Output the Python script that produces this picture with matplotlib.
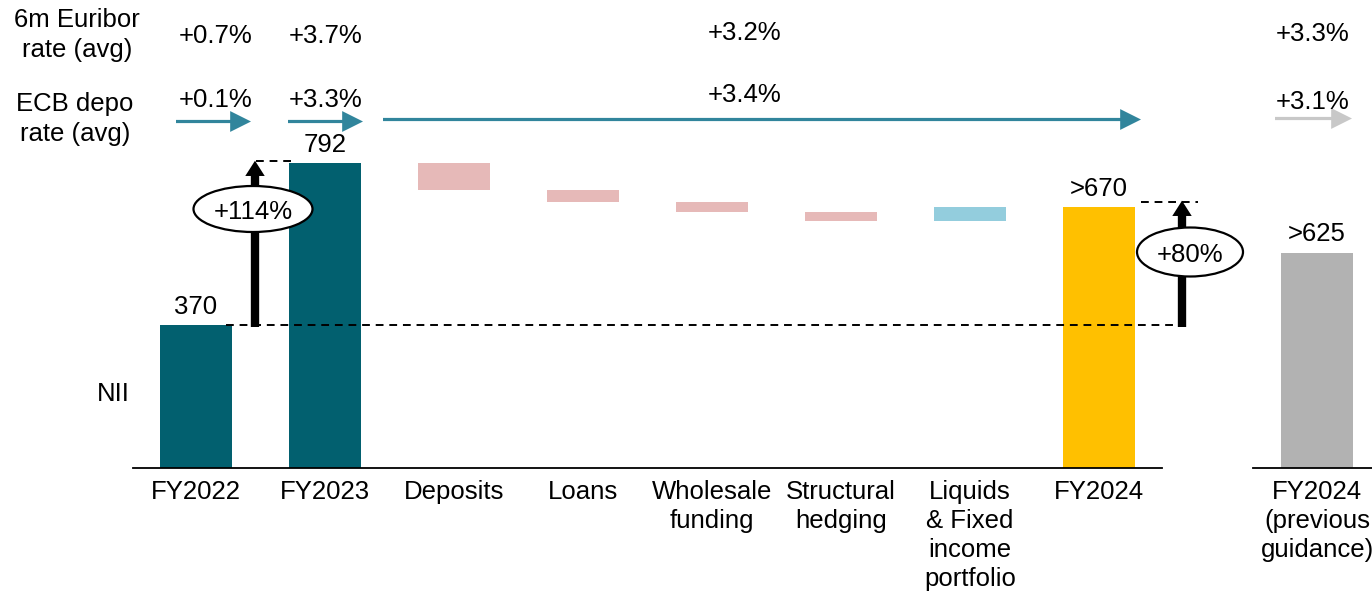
import matplotlib
matplotlib.use("Agg")
import matplotlib.pyplot as plt
from matplotlib import font_manager
from matplotlib.patches import Ellipse, FancyArrowPatch
import numpy as np

plt.rcParams['font.family'] = ['Liberation Sans', 'DejaVu Sans']

# --- dados ---
categorias = ['FY2022', 'FY2023', 'Deposits', 'Loans', 'Wholesale\nfunding',
              'Structural\nhedging', 'Liquids\n& Fixed\nincome\nportfolio', 'FY2024']
tipo = ['total', 'total', 'delta', 'delta', 'delta', 'delta', 'delta', 'total']
valores = [370, 792, -71, -30, -26, -24, 37, 678]
rotulos_valor = ['370', '792', '', '', '', '', '', '>670']

guia_categoria = 'FY2024\n(previous\nguidance)'
guia_valor = 559
guia_rotulo = '>625'

euribor = ['+0.7%', '+3.7%', '+3.2%', '+3.3%']
ecb = ['+0.1%', '+3.3%', '+3.4%', '+3.1%']
crescimento = ['+114%', '+80%']

# --- cores ---
teal = '#02606F'
cor_neg = '#E6B9B8'
cor_pos = '#93CDDD'
amarelo = '#FFC000'
cinza = '#B2B2B2'
seta_teal = '#31859C'
seta_cinza = '#C8C8C8'

# fonte estreita para as categorias do meio (se existir)
try:
    font_manager.findfont('Liberation Sans Narrow', fallback_to_default=False)
    narrow = ['Liberation Sans Narrow', 'Liberation Sans']
except Exception:
    narrow = ['Liberation Sans', 'DejaVu Sans']

FS = 18.5

# escala: pixels da imagem -> dados
PX_X, X0 = 129.0, 196.0
PX_Y, Y0 = 0.3845, 467.5
def X(px):
    return (px - X0) / PX_X
def Y(py):
    return (Y0 - py) / PX_Y

fig = plt.figure(figsize=(13.72, 5.93), dpi=100)
ax = fig.add_axes([0, 0, 1, 1])
ax.set_xlim(X(0), X(1372))
ax.set_ylim(Y(593), Y(0))
ax.axis('off')

# --- waterfall ---
x = np.arange(len(categorias))
largura = 0.558
nivel = 0
for i, (t, v) in enumerate(zip(tipo, valores)):
    if t == 'total':
        base, altura = 0, v
        cor = amarelo if i == len(valores) - 1 else teal
        nivel = v
    else:
        base = nivel if v > 0 else nivel + v
        altura = abs(v)
        cor = cor_pos if v > 0 else cor_neg
        nivel = nivel + v
    ax.bar(x[i], altura, largura, bottom=base, color=cor, zorder=2)
    if rotulos_valor[i]:
        ax.text(x[i], altura + 29, rotulos_valor[i], ha='center', va='baseline', fontsize=FS)

x_guia = X(1317)
ax.bar(x_guia, guia_valor, largura, color=cinza, zorder=2)
ax.text(x_guia, guia_valor + 29, guia_rotulo, ha='center', va='baseline', fontsize=FS)

# eixo base
ax.plot([X(133), X(1162)], [0, 0], color='k', lw=1.3, zorder=3)
ax.plot([X(1253), X(1372)], [0, 0], color='k', lw=1.3, zorder=3)

# rótulos das categorias
for i, c in enumerate(categorias):
    fam = narrow if 2 <= i <= 6 else ['Liberation Sans', 'DejaVu Sans']
    ax.text(x[i], Y(480), c, ha='center', va='top', fontsize=FS, family=fam,
            multialignment='center', linespacing=1.27)
ax.text(x_guia, Y(480), guia_categoria, ha='center', va='top', fontsize=FS,
        multialignment='center', linespacing=1.27)

ax.text(X(113), Y(394), 'NII', ha='center', va='center', fontsize=FS)

# --- linhas tracejadas e setas de crescimento ---
tracejado = dict(color='k', lw=1.4, linestyle=(0, (4, 3)), zorder=4)
ax.plot([X(226), X(1177)], [Y(325.3), Y(325.3)], **tracejado)
ax.plot([X(256), X(292)], [Y(160.7), Y(160.7)], **tracejado)
ax.plot([X(1141), X(1198)], [Y(201.7), Y(201.7)], **tracejado)

estilo_preto = 'simple,tail_width=6,head_width=14,head_length=11'
for xp, topo in [(255, 160.7), (1182, 200.7)]:
    ax.add_patch(FancyArrowPatch((X(xp), Y(327)), (X(xp), Y(topo)), arrowstyle=estilo_preto,
                                 mutation_scale=1, color='k', lw=0, shrinkA=0, shrinkB=0, zorder=5))

for (cx, cy, w, h), txt in zip([(253, 209, 119, 46), (1190, 252, 106, 49)], crescimento):
    ax.add_patch(Ellipse((X(cx), Y(cy)), w / PX_X, h / PX_Y, facecolor='white',
                         edgecolor='k', lw=1.6, zorder=6))
    ax.text(X(cx), Y(cy), txt, ha='center', va='center_baseline', fontsize=FS, zorder=7)

# --- taxas ---
ax.text(X(77), Y(35), '6m Euribor\nrate (avg)', ha='center', va='center', fontsize=FS,
        multialignment='center', linespacing=1.27)
ax.text(X(75), Y(119), 'ECB depo\nrate (avg)', ha='center', va='center', fontsize=FS,
        multialignment='center', linespacing=1.27)

pos_x = [216, 326, 745, 1313]
base_eur = [43, 43, 40, 41]
base_ecb = [107, 107, 102, 109]
for xp, t, b in zip(pos_x, euribor, base_eur):
    ax.text(X(xp), Y(b), t, ha='center', va='baseline', fontsize=FS)
for xp, t, b in zip(pos_x, ecb, base_ecb):
    ax.text(X(xp), Y(b), t, ha='center', va='baseline', fontsize=FS)

estilo_teal = 'simple,tail_width=2.3,head_width=15,head_length=15'
setas = [(176, 251, 121.5, seta_teal), (288, 363, 121.5, seta_teal),
         (383, 1141, 119.5, seta_teal), (1275, 1352, 118.5, seta_cinza)]
for a, b, yp, cor in setas:
    ax.add_patch(FancyArrowPatch((X(a), Y(yp)), (X(b), Y(yp)), arrowstyle=estilo_teal,
                                 mutation_scale=1, color=cor, lw=0, shrinkA=0, shrinkB=0))

fig.savefig('out.png', dpi=100)
